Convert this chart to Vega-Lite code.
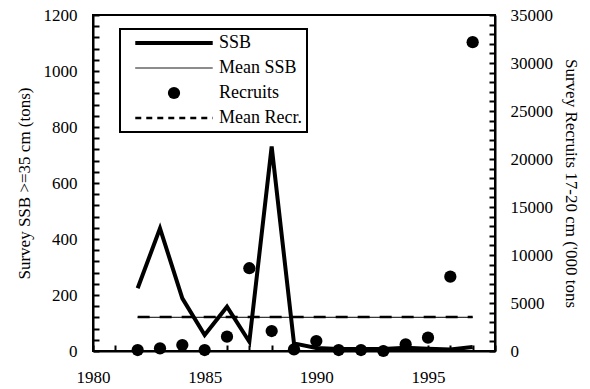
{
  "$schema": "https://vega.github.io/schema/vega-lite/v6.json",
  "width": 402,
  "height": 336,
  "autosize": "none",
  "padding": {"left": 93, "top": 15, "right": 95, "bottom": 38},
  "background": "white",
  "config": {
    "font": "Liberation Serif, Times New Roman, DejaVu Serif, serif",
    "view": {"stroke": "black", "strokeWidth": 2},
    "axis": {
      "labelFont": "Liberation Serif, Times New Roman, DejaVu Serif, serif",
      "titleFont": "Liberation Serif, Times New Roman, DejaVu Serif, serif",
      "labelFontSize": 17,
      "titleFontSize": 17,
      "labelColor": "black",
      "titleColor": "black",
      "titleFontWeight": "normal",
      "domainColor": "black",
      "domainWidth": 2,
      "tickColor": "black",
      "tickWidth": 2,
      "grid": false,
      "labelFlush": false,
      "labelOverlap": false
    },
    "legend": {
      "labelFont": "Liberation Serif, Times New Roman, DejaVu Serif, serif",
      "labelFontSize": 18,
      "labelColor": "black"
    }
  },
  "data": {
    "values": [
      {"year": 1982, "ssb": 224, "recruits": 100},
      {"year": 1983, "ssb": 438, "recruits": 280},
      {"year": 1984, "ssb": 188, "recruits": 625},
      {"year": 1985, "ssb": 57, "recruits": 100},
      {"year": 1986, "ssb": 158, "recruits": 1490},
      {"year": 1987, "ssb": 33, "recruits": 8620},
      {"year": 1988, "ssb": 730, "recruits": 2080},
      {"year": 1989, "ssb": 27, "recruits": 170},
      {"year": 1990, "ssb": 11, "recruits": 1040},
      {"year": 1991, "ssb": 7, "recruits": 100},
      {"year": 1992, "ssb": 7, "recruits": 100},
      {"year": 1993, "ssb": 7, "recruits": 0},
      {"year": 1994, "ssb": 12, "recruits": 690},
      {"year": 1995, "ssb": 8, "recruits": 1390},
      {"year": 1996, "ssb": 5, "recruits": 7740},
      {"year": 1997, "ssb": 14, "recruits": 32170}
    ]
  },
  "layer": [
    {
      "layer": [
        {
          "mark": {"type": "line", "strokeWidth": 4, "strokeJoin": "miter"},
          "encoding": {
            "x": {
              "field": "year",
              "type": "quantitative",
              "scale": {"domain": [1980, 1998], "nice": false, "zero": false},
              "axis": {
                "title": null,
                "values": [1980,1981,1982,1983,1984,1985,1986,1987,1988,1989,1990,1991,1992,1993,1994,1995,1996,1997,1998],
                "tickCount": 100,
                "labelExpr": "datum.value % 5 === 0 ? datum.label : ''",
                "format": "d",
                "labelOverlap": false,
                "labelFlush": false,
                "tickSize": -6,
                "labelPadding": 24
              }
            },
            "y": {
              "field": "ssb",
              "type": "quantitative",
              "scale": {"domain": [0, 1200], "nice": false},
              "axis": {
                "title": "Survey SSB >=35 cm (tons)",
                "values": [0,40,80,120,160,200,240,280,320,360,400,440,480,520,560,600,640,680,720,760,800,840,880,920,960,1000,1040,1080,1120,1160,1200],
                "tickCount": 100,
                "format": "d",
                "labelExpr": "datum.value % 200 === 0 ? datum.label : ''",
                "labelOverlap": false,
                "labelFlush": false,
                "tickSize": -6,
                "labelPadding": 22,
                "titlePadding": 10
              }
            },
            "color": {
              "datum": "SSB",
              "scale": {
                "domain": ["SSB", "Mean SSB", "Recruits", "Mean Recr."],
                "range": ["black", "black", "black", "black"]
              },
              "legend": {
                "title": null,
                "orient": "none",
                "legendX": 27,
                "legendY": 14,
                "padding": 5,
                "rowPadding": 7,
                "symbolSize": 240,
                "symbolType": "M-5,0H5",
                "symbolOffset": 40,
                "labelOffset": 36,
                "encode": {
                  "legend": {
                    "update": {
                      "stroke": {"value": "black"},
                      "strokeWidth": {"value": 2},
                      "fill": {"value": "white"}
                    }
                  },
                  "symbols": {
                    "update": {
                      "shape": {"signal": "datum.value === 'Recruits' ? 'circle' : 'M-5,0H5'"},
                      "size": {"signal": "datum.value === 'Recruits' ? 150 : 240"},
                      "strokeWidth": {"signal": "datum.value === 'SSB' ? 4 : (datum.value === 'Mean Recr.' ? 2.5 : (datum.value === 'Recruits' ? 0 : 1))"},
                      "strokeDash": {"signal": "datum.value === 'Mean Recr.' ? [6, 5] : [1, 0]"},
                      "fill": {"signal": "datum.value === 'Recruits' ? 'black' : 'transparent'"},
                      "stroke": {"value": "black"},
                      "opacity": {"value": 1}
                    }
                  }
                }
              }
            }
          }
        },
        {
          "mark": {"type": "rule", "strokeWidth": 1},
          "encoding": {
            "x": {"aggregate": "min", "field": "year", "type": "quantitative"},
            "x2": {"aggregate": "max", "field": "year"},
            "y": {"aggregate": "mean", "field": "ssb", "type": "quantitative"},
            "color": {"datum": "Mean SSB"}
          }
        }
      ]
    },
    {
      "layer": [
        {
          "mark": {"type": "point", "filled": true, "size": 150, "opacity": 1},
          "encoding": {
            "x": {"field": "year", "type": "quantitative"},
            "y": {
              "field": "recruits",
              "type": "quantitative",
              "scale": {"domain": [0, 35000], "nice": false},
              "axis": {
                "orient": "right",
                "title": "Survey Recruits 17-20 cm ('000 tons",
                "values": [0,1000,2000,3000,4000,5000,6000,7000,8000,9000,10000,11000,12000,13000,14000,15000,16000,17000,18000,19000,20000,21000,22000,23000,24000,25000,26000,27000,28000,29000,30000,31000,32000,33000,34000,35000],
                "tickCount": 100,
                "labelExpr": "datum.value % 5000 === 0 ? datum.label : ''",
                "format": "d",
                "labelOverlap": false,
                "labelFlush": false,
                "tickSize": -6,
                "labelPadding": 21,
                "titlePadding": 9
              }
            },
            "color": {"datum": "Recruits"}
          }
        },
        {
          "mark": {"type": "rule", "strokeWidth": 2.5, "strokeDash": [12, 10]},
          "encoding": {
            "x": {"aggregate": "min", "field": "year", "type": "quantitative"},
            "x2": {"aggregate": "max", "field": "year"},
            "y": {"aggregate": "mean", "field": "recruits", "type": "quantitative"},
            "color": {"datum": "Mean Recr."}
          }
        }
      ]
    }
  ],
  "resolve": {"scale": {"y": "independent"}}
}
